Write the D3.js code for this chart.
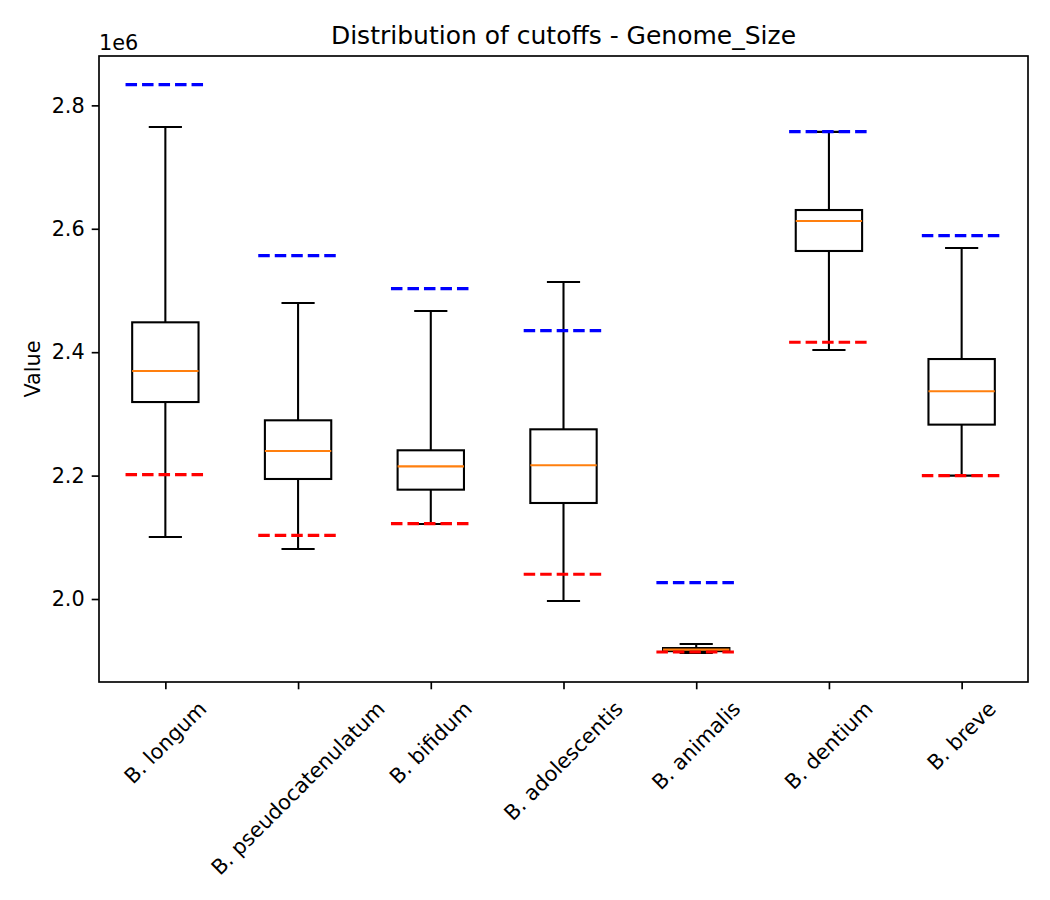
<!DOCTYPE html>
<html>
<head>
    <meta charset="utf-8">
    <title>Distribution of cutoffs - Genome_Size</title>
    <script src="https://cdnjs.cloudflare.com/ajax/libs/d3/7.8.5/d3.min.js"></script>
    <style>
        body{ margin: 0; background: #fff; }
        text{ font-family: "DejaVu Sans", sans-serif; fill: #000; }
    </style>
</head>
<body>
<script>
    // data
    const categories = ['B. longum', 'B. pseudocatenulatum', 'B. bifidum', 'B. adolescentis',
        'B. animalis', 'B. dentium', 'B. breve'];
    const whiskerLow  = [2100500, 2081000, 2121500, 1996800, 1912500, 2403500, 2200000];
    const q1          = [2319200, 2194500, 2177200, 2155600, 1915500, 2564000, 2282600];
    const median      = [2369500, 2239800, 2215000, 2216700, 1918000, 2612500, 2336600];
    const q3          = [2448400, 2289600, 2241000, 2275000, 1920500, 2630400, 2388900];
    const whiskerHigh = [2765000, 2479700, 2466700, 2513700, 1927000, 2757000, 2568800];
    const upperCutoff = [2833600, 2556500, 2503000, 2434900, 2026600, 2757400, 2588900];
    const lowerCutoff = [2201600, 2103200, 2122200, 2040000, 1914100, 2416000, 2200000];
    const yTicks = [2.0e6, 2.2e6, 2.4e6, 2.6e6, 2.8e6];

    const W = 1050, H = 900;
    const m = {left: 99, right: 1028, top: 56, bottom: 682};
    const fs = 20.8;

    const svg = d3.select('body').append('svg')
        .attr('width', W).attr('height', H);

    const x = d3.scaleLinear().domain([0.5, categories.length + 0.5]).range([m.left, m.right]);
    const y = d3.scaleLinear().domain([1.8655e6, 2.880e6]).range([m.bottom, m.top]);

    const boxes = categories.map((c, i) => ({
        name: c, pos: i + 1,
        lo: whiskerLow[i], q1: q1[i], med: median[i], q3: q3[i], hi: whiskerHigh[i],
        up: upperCutoff[i], down: lowerCutoff[i]
    }));

    const g = svg.append('g');

    //boxes
    const b = g.selectAll('g.box').data(boxes).enter().append('g').attr('class', 'box');
    // whiskers
    b.append('line')
        .attr('x1', d => x(d.pos)).attr('x2', d => x(d.pos))
        .attr('y1', d => y(d.q1)).attr('y2', d => y(d.lo))
        .attr('stroke', 'black').attr('stroke-width', 2.08);
    b.append('line')
        .attr('x1', d => x(d.pos)).attr('x2', d => x(d.pos))
        .attr('y1', d => y(d.q3)).attr('y2', d => y(d.hi))
        .attr('stroke', 'black').attr('stroke-width', 2.08);
    // caps
    b.append('line')
        .attr('x1', d => x(d.pos - 0.125)).attr('x2', d => x(d.pos + 0.125))
        .attr('y1', d => y(d.lo)).attr('y2', d => y(d.lo))
        .attr('stroke', 'black').attr('stroke-width', 2.08);
    b.append('line')
        .attr('x1', d => x(d.pos - 0.125)).attr('x2', d => x(d.pos + 0.125))
        .attr('y1', d => y(d.hi)).attr('y2', d => y(d.hi))
        .attr('stroke', 'black').attr('stroke-width', 2.08);
    // box
    b.append('rect')
        .attr('x', d => x(d.pos - 0.25))
        .attr('width', d => x(d.pos + 0.25) - x(d.pos - 0.25))
        .attr('y', d => y(d.q3))
        .attr('height', d => y(d.q1) - y(d.q3))
        .attr('fill', 'none').attr('stroke', 'black').attr('stroke-width', 2.08);
    // median
    b.append('line')
        .attr('x1', d => x(d.pos - 0.25)).attr('x2', d => x(d.pos + 0.25))
        .attr('y1', d => y(d.med)).attr('y2', d => y(d.med))
        .attr('stroke', '#ff7f0e').attr('stroke-width', 2.08);

    //cutoff lines on top
    g.selectAll('line.up').data(boxes).enter().append('line').attr('class', 'up')
        .attr('x1', d => x(d.pos - 0.3)).attr('x2', d => x(d.pos + 0.3))
        .attr('y1', d => y(d.up)).attr('y2', d => y(d.up))
        .attr('stroke', '#0000ff').attr('stroke-width', 3.1)
        .attr('stroke-dasharray', '11.5,5');
    g.selectAll('line.down').data(boxes).enter().append('line').attr('class', 'down')
        .attr('x1', d => x(d.pos - 0.3)).attr('x2', d => x(d.pos + 0.3))
        .attr('y1', d => y(d.down)).attr('y2', d => y(d.down))
        .attr('stroke', '#ff0000').attr('stroke-width', 3.1)
        .attr('stroke-dasharray', '11.5,5');

    //axes
    const yAxis = d3.axisLeft(y).tickValues(yTicks)
        .tickFormat(v => (v / 1e6).toFixed(1)).tickSize(7.3).tickPadding(7);
    const ya = svg.append('g').attr('transform', `translate(${m.left},0)`).call(yAxis);
    ya.select('.domain').remove();
    ya.selectAll('line').attr('stroke', 'black').attr('stroke-width', 1.67);
    ya.selectAll('text').style('font-size', fs + 'px').style('font-family', 'DejaVu Sans');

    const xAxis = d3.axisBottom(x).tickValues(boxes.map(d => d.pos))
        .tickFormat('').tickSize(7.3);
    const xa = svg.append('g').attr('transform', `translate(0,${m.bottom})`).call(xAxis);
    xa.select('.domain').remove();
    xa.selectAll('line').attr('stroke', 'black').attr('stroke-width', 1.67);

    // rotated tick labels, bbox centred under tick like matplotlib
    const lab = svg.append('g');
    boxes.forEach(d => {
        const t = lab.append('text')
            .style('font-size', fs + 'px')
            .attr('text-anchor', 'middle')
            .attr('dominant-baseline', 'central')
            .text(d.name);
        const L = t.node().getComputedTextLength();
        const side = (L + fs * 1.16) / Math.SQRT2;
        const cx = x(d.pos), cy = m.bottom + 7.3 + 7.3 + side / 2;
        t.attr('transform', `translate(${cx},${cy}) rotate(-45)`);
    });

    // frame
    svg.append('rect')
        .attr('x', m.left).attr('y', m.top)
        .attr('width', m.right - m.left).attr('height', m.bottom - m.top)
        .attr('fill', 'none').attr('stroke', 'black').attr('stroke-width', 1.67);

    // title, labels
    svg.append('text')
        .attr('x', (m.left + m.right) / 2).attr('y', 44)
        .attr('text-anchor', 'middle')
        .style('font-size', '25px')
        .text('Distribution of cutoffs - Genome_Size');
    svg.append('text')
        .attr('transform', `translate(40,${(m.top + m.bottom) / 2}) rotate(-90)`)
        .attr('text-anchor', 'middle')
        .style('font-size', fs + 'px')
        .text('Value');
    svg.append('text')
        .attr('x', m.left).attr('y', 50)
        .style('font-size', fs + 'px')
        .text('1e6');
</script>
</body>
</html>
